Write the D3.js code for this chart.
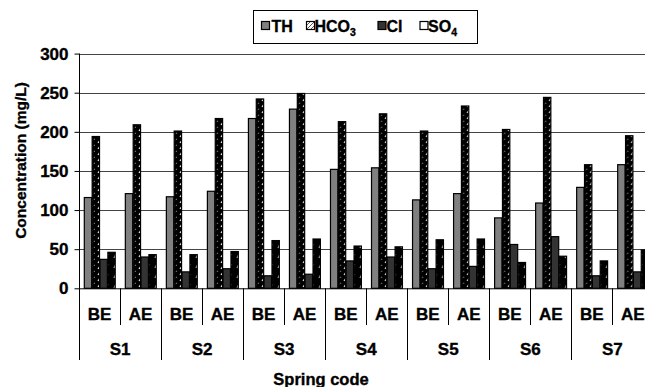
<!DOCTYPE html>
<html>
<head>
<meta charset="utf-8">
<script src="https://cdn.jsdelivr.net/npm/d3@7"></script>
<style>
  html, body { margin: 0; padding: 0; background: #fff; }
  svg { display: block; }
  svg text { font-family: "Liberation Sans", Arial, sans-serif; font-weight: bold; fill: #000; stroke: #000; stroke-width: 0.35px; }
</style>
</head>
<body>
<svg id="chart" width="645" height="387"></svg>
<script>
const springs = ["S1", "S2", "S3", "S4", "S5", "S6", "S7"];
const periods = ["BE", "AE"];
const seriesNames = ["TH", "HCO3", "Cl", "SO4"];
const TH   = [116, 121, 117, 124, 217, 229, 152, 154, 113, 121, 90, 109, 129, 158];
const HCO3 = [194, 209, 201, 217, 242, 249, 213, 223, 201, 233, 203, 244, 158, 195];
const Cl   = [37, 40, 21, 25, 16, 18, 35, 40, 25, 28, 56, 66, 16, 21];
const SO4  = [46, 43, 43, 47, 61, 63, 54, 53, 62, 63, 33, 41, 35, 49];
const yTicks = [0, 50, 100, 150, 200, 250, 300];
const yTitle = "Concentration (mg/L)";
const xTitle = "Spring code";

const svg = d3.select("#chart");
const left = 79, step = 41.03;
const cats = [];
springs.forEach(s => periods.forEach(p => cats.push(s + "|" + p)));
const seriesValues = { TH, HCO3, Cl, SO4 };

const x0 = d3.scaleBand().domain(cats).range([left, left + cats.length * step]).padding(0);
const x1 = d3.scaleBand().domain(seriesNames).range([4.8, step - 4.8]).padding(0);
const y = d3.scaleLinear().domain([0, 250]).range([288.3, 92.7]);
const plotRight = left + cats.length * step;

// patterns
const defs = svg.append("defs");
const pDark = defs.append("pattern").attr("id", "pHCO3").attr("patternUnits", "userSpaceOnUse")
  .attr("width", 8).attr("height", 6);
pDark.append("rect").attr("width", 8).attr("height", 6).attr("fill", "#000");
pDark.append("path").attr("d", "M3,5 L5,2").attr("stroke", "#fff").attr("stroke-width", 1.2);
pDark.append("path").attr("d", "M7,2 L8,0.5").attr("stroke", "#aaa").attr("stroke-width", 0.8);

const pSO4 = defs.append("pattern").attr("id", "pSO4").attr("patternUnits", "userSpaceOnUse")
  .attr("width", 8).attr("height", 10);
pSO4.append("rect").attr("width", 8).attr("height", 10).attr("fill", "#000");
pSO4.append("path").attr("d", "M3,8 L5,4").attr("stroke", "#ccc").attr("stroke-width", 1.2);

const pLeg = defs.append("pattern").attr("id", "pLeg").attr("patternUnits", "userSpaceOnUse")
  .attr("width", 4).attr("height", 4);
pLeg.append("rect").attr("width", 4).attr("height", 4).attr("fill", "#fff");
pLeg.append("path").attr("d", "M0,4 L4,0").attr("stroke", "#333").attr("stroke-width", 0.8);

const fills = { TH: "#808080", HCO3: "url(#pHCO3)", Cl: "#333333", SO4: "url(#pSO4)" };

// gridlines
svg.append("g").selectAll("line").data(yTicks.filter(t => t > 0)).join("line")
  .attr("x1", left).attr("x2", plotRight)
  .attr("y1", d => Math.round(y(d)) + 0.5).attr("y2", d => Math.round(y(d)) + 0.5)
  .attr("stroke", "#444").attr("stroke-width", 1);

// y axis
const yAxis = d3.axisLeft(y).tickValues(yTicks).tickSize(5).tickPadding(6);
const gy = svg.append("g").attr("transform", `translate(${left + 0.5},0)`).call(yAxis);
gy.attr("font-family", null).attr("font-size", null);
gy.select(".domain").attr("stroke", "#000").attr("d", `M0,${y(300)}V${y(0)}`);
gy.selectAll(".tick line").attr("stroke", "#000");
gy.selectAll(".tick text").style("font-size", "17px");

// bars
const groups = svg.append("g").selectAll("g").data(cats).join("g")
  .attr("transform", d => `translate(${x0(d)},0)`);
groups.selectAll("rect").data((d, i) => seriesNames.map(s => ({ s, v: seriesValues[s][i] })))
  .join("rect")
  .attr("x", d => x1(d.s) + 0.5)
  .attr("width", x1.bandwidth() - 0.5)
  .attr("y", d => y(d.v))
  .attr("height", d => y(0) - y(d.v))
  .attr("fill", d => fills[d.s])
  .attr("stroke", "#000").attr("stroke-width", 1.2);

// baseline
svg.append("line").attr("x1", left).attr("x2", plotRight)
  .attr("y1", y(0) + 0.5).attr("y2", y(0) + 0.5).attr("stroke", "#000");

// category axis dividers
const xg = svg.append("g");
cats.forEach((c, i) => {
  const xx = Math.round(x0(c)) + 0.5;
  const isSpringStart = i % 2 === 0;
  xg.append("line").attr("x1", xx).attr("x2", xx)
    .attr("y1", y(0)).attr("y2", isSpringStart ? 360 : 325)
    .attr("stroke", "#000").attr("stroke-width", 1);
});
xg.selectAll("text.per").data(cats).join("text").attr("class", "per")
  .attr("x", d => x0(d) + step / 2).attr("y", 319.5)
  .attr("text-anchor", "middle").style("font-size", "17px").text(d => d.split("|")[1]);
xg.selectAll("text.spr").data(springs).join("text").attr("class", "spr")
  .attr("x", (d, i) => x0(cats[i * 2]) + step).attr("y", 354.5)
  .attr("text-anchor", "middle").style("font-size", "17px").text(d => d);

// titles
svg.append("text").attr("x", 321).attr("y", 385).attr("text-anchor", "middle")
  .style("font-size", "16.5px").text(xTitle);
svg.append("text").attr("transform", "translate(26,160.5) rotate(-90)")
  .attr("text-anchor", "middle").style("font-size", "15.5px").text(yTitle);

// legend
const leg = svg.append("g");
leg.append("rect").attr("x", 253.5).attr("y", 10.5).attr("width", 224).attr("height", 33)
  .attr("fill", "#fff").attr("stroke", "#000");
const legItems = [
  { sx: 261, tx: 271.5, fill: "#808080", label: ["TH", null] },
  { sx: 306, tx: 314.5, fill: "url(#pLeg)", label: ["HCO", "3"] },
  { sx: 377.5, tx: 386.5, fill: "#333333", label: ["Cl", null] },
  { sx: 419.5, tx: 428, fill: "#fff", label: ["SO", "4"] }
];
legItems.forEach(it => {
  leg.append("rect").attr("x", it.sx + 0.5).attr("y", 21.5).attr("width", 8).attr("height", 8)
    .attr("fill", it.fill).attr("stroke", "#000").attr("stroke-width", 1.2);
  const t = leg.append("text").attr("x", it.tx).attr("y", 31.5).style("font-size", "16px");
  t.append("tspan").text(it.label[0]);
  if (it.label[1]) t.append("tspan").attr("dy", 4).style("font-size", "10.5px").text(it.label[1]);
});
</script>
</body>
</html>
